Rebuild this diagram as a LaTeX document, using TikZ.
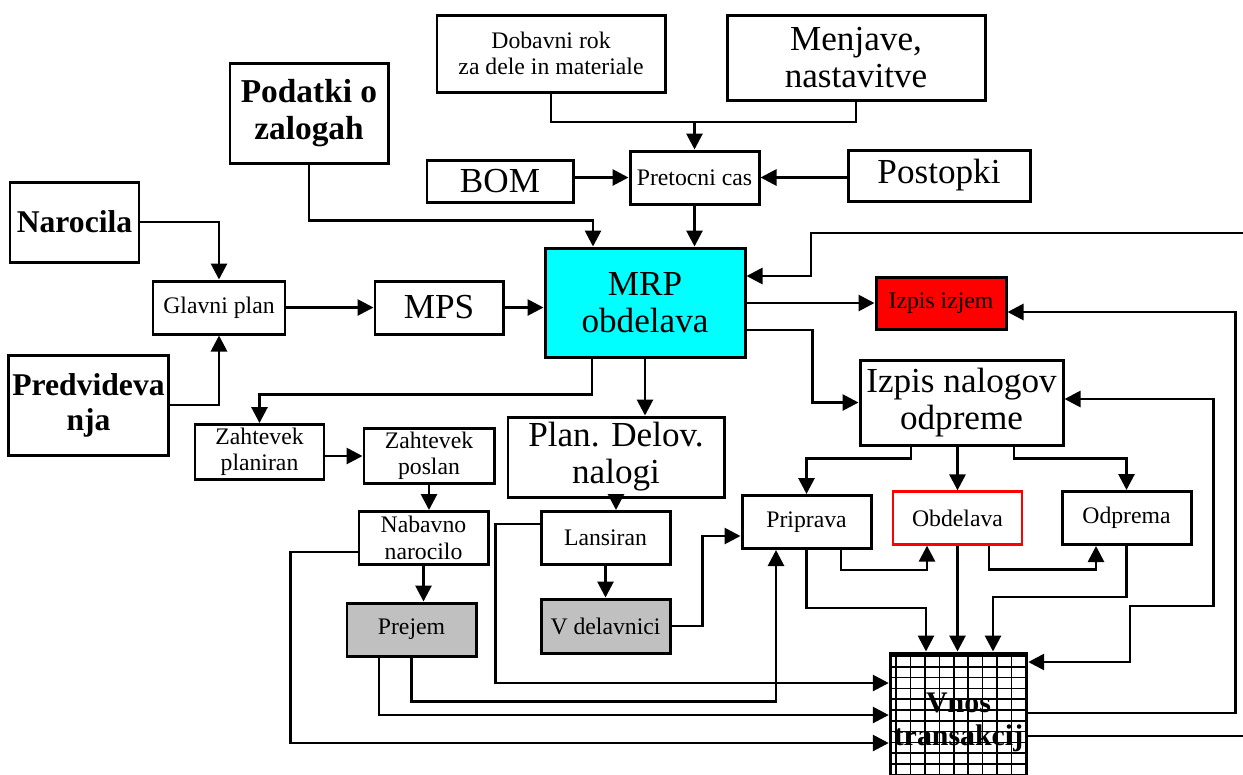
\documentclass[tikz,border=0pt]{standalone}
\usepackage{fontspec}
\setmainfont{Liberation Serif}
\usetikzlibrary{positioning, arrows.meta, calc}
\definecolor{mrpcyan}{HTML}{00FFFF}
\definecolor{izjemred}{HTML}{FF0000}
\definecolor{boxgray}{HTML}{C0C0C0}

\tikzset{
  blok/.style={draw, line width=1.7pt, fill=white, align=center, inner sep=2pt},
  mali/.style={blok, font=\fontsize{13.5}{15}\selectfont,
               minimum width=25.8mm, minimum height=10.6mm},
  veliki/.style={blok, font=\fontsize{20}{21}\selectfont},
  krepki/.style={blok, font=\fontsize{18}{20}\selectfont\bfseries},
  tok/.style={line width=1.6pt, -{Triangle[length=3.2mm,width=3.2mm]}},
  dvotok/.style={line width=1.6pt,
                 {Triangle[length=3.2mm,width=3.2mm]}-{Triangle[length=3.2mm,width=3.2mm]}},
  crta/.style={line width=1.6pt},
  mreza/.style={path picture={
      \foreach \k in {0,...,8}
        \draw[line width=0.9pt]
          ([xshift={1.2mm+\k*2.88mm}]path picture bounding box.north west) --
          ([xshift={1.2mm+\k*2.88mm}]path picture bounding box.south west);
      \foreach \k in {0,...,12}
        \draw[line width=0.9pt]
          ([yshift={-0.6mm-\k*2.16mm}]path picture bounding box.north west) --
          ([yshift={-0.6mm-\k*2.16mm}]path picture bounding box.north east);
    }},
}

\begin{document}
\begin{tikzpicture}[x=0.2mm, y=-0.2mm]
  \useasboundingbox (0,0) rectangle (1243,774);
  \clip (0,0) rectangle (1243,774);

  % vhodni podatki
  \node[mali, minimum width=45.6mm, minimum height=15.4mm] (dobavni) at (551,53.5)
    {Dobavni rok\\za dele in materiale};
  \node[veliki, minimum width=51.6mm, minimum height=17mm] (menjave) at (856,57.5)
    {Menjave,\\nastavitve};
  \node[krepki, font=\fontsize{19}{21}\selectfont\bfseries,
        minimum width=31.6mm, minimum height=20mm] (podatki) at (309,113)
    {Podatki o\\zalogah};
  \node[veliki, minimum width=29.2mm, minimum height=8.4mm] (bom) at (500,181) {BOM};
  \node[mali] (pretocni) at (694.5,177.5) {Pretocni cas};
  \node[veliki, minimum width=36.4mm, minimum height=10.2mm] (postopki) at (939,175.5) {Postopki};
  \node[krepki, minimum width=25.8mm, minimum height=16mm] (narocila) at (74.5,222) {Narocila};
  \node[krepki, minimum width=31.4mm, minimum height=20mm] (predvid) at (88.5,405)
    {Predvideva\\nja};

  % planiranje
  \node[mali, minimum width=26.4mm] (glavni) at (219,307.5) {Glavni plan};
  \node[veliki, minimum width=25.6mm, minimum height=10.6mm] (mps) at (439,307.5) {MPS};
  \node[veliki, fill=mrpcyan, minimum width=40mm, minimum height=21.8mm] (mrp) at (645,302.5)
    {MRP\\obdelava};
  \node[mali, fill=izjemred, minimum width=26mm, minimum height=10.4mm] (izjem) at (941,303)
    {Izpis izjem};
  \node[veliki, minimum width=40.6mm, minimum height=17mm] (nalogov) at (961.5,402.5)
    {Izpis nalogov\\odpreme};

  % nabava
  \node[mali, minimum height=10.8mm] (zplan) at (259.5,452) {Zahtevek\\planiran};
  \node[mali, minimum width=26mm, minimum height=10.8mm] (zposl) at (429,456) {Zahtevek\\poslan};
  \node[mali] (nabavno) at (423.5,538) {Nabavno\\narocilo};
  \node[mali, fill=boxgray] (prejem) at (411.5,629.5) {Prejem};

  % proizvodnja
  \node[veliki, minimum width=43.2mm, minimum height=16mm] (plan) at (616,457)
    {Plan. Delov.\\nalogi};
  \node[mali] (lansiran) at (605.5,538) {Lansiran};
  \node[mali, fill=boxgray, minimum height=10.8mm] (delavnici) at (605.5,626) {V delavnici};

  % odprema
  \node[mali] (priprava) at (806.5,522) {Priprava};
  \node[mali, draw=izjemred, line width=1.3pt] (obdelava) at (957.5,518) {Obdelava};
  \node[mali] (odprema) at (1126.5,518) {Odprema};

  \node[krepki, mreza, font=\fontsize{17}{19}\selectfont\bfseries,
        minimum width=27mm, minimum height=26.4mm, text depth=-2pt] (vnos) at (958.5,719)
    {Vnos\\transakcij};

  % povezave zgoraj
  \coordinate (spoj) at (694.5,122);
  \draw[crta] (dobavni.south) |- (spoj);
  \draw[crta] (menjave.south) |- (spoj);
  \draw[tok] (spoj) -- (pretocni.north);
  \draw[tok] (bom.east |- pretocni) -- (pretocni.west);
  \draw[tok] (postopki.west |- pretocni) -- (pretocni.east);
  \draw[tok] (pretocni.south) -- (pretocni.south |- mrp.north);
  \draw[tok] (podatki.south) -- ++(0,56) -| ([xshift=-10.4mm]mrp.north);

  \draw[tok] (narocila.east) -| (glavni.north);
  \draw[tok] (predvid.east) -| (glavni.south);
  \draw[tok] (glavni.east) -- (glavni.east -| mps.west);
  \draw[tok] (mps.east) -- (mps.east -| mrp.west);

  % izhodi MRP
  \draw[tok] (mrp.east |- izjem) -- (izjem.west);
  \draw[tok] ([yshift=-5.5mm]mrp.east) -- ++(66,0) |- (nalogov.west);
  \draw[tok] ([xshift=-10.6mm]mrp.south) -- ++(0,36) -| (zplan.north);
  \draw[tok] (mrp.south) -- (mrp.south |- plan.north);

  % nabava
  \draw[tok] (zplan.east |- zposl) -- (zposl.west);
  \draw[tok] (zposl.south) -- (zposl.south |- nabavno.north);
  \draw[tok] (nabavno.south) -- (nabavno.south |- prejem.north);

  % proizvodnja
  \draw[tok] (plan.south) -- (plan.south |- lansiran.north);
  \draw[tok] (lansiran) -- (delavnici);
  \draw[tok] (delavnici.east) -- ++(31,0) |- ([yshift=-2.8mm]priprava.west);

  % odprema
  \draw[tok] ([xshift=-10.1mm]nalogov.south) -- ++(0,12) -| (priprava.north);
  \draw[tok] (obdelava.north |- nalogov.south) -- (obdelava.north);
  \draw[tok] ([xshift=10.5mm]nalogov.south) -- ++(0,12) -| (odprema.north);
  \draw[tok] ([xshift=6.9mm]priprava.south) -- ++(0,20) -| ([xshift=-6.1mm]obdelava.south);
  \draw[tok] ([xshift=6.3mm]obdelava.south) -- ++(0,24) -| ([xshift=-6.1mm]odprema.south);

  % v vnos transakcij
  \draw[tok] (obdelava.south) -- (obdelava.south |- vnos.north);
  \draw[tok] (priprava.south) -- ++(0,58) -| ([xshift=-6.5mm]vnos.north);
  \draw[tok] (odprema.south) -- ++(0,51) -| ([xshift=6.9mm]vnos.north);
  \draw[tok] ([yshift=2.8mm]lansiran.west) -- ++(-44,0) |- ([yshift=7.2mm]vnos.west);
  \draw[tok] (prejem.south) -- ++(0,44) -| ([xshift=-6.1mm]priprava.south);
  \draw[tok] ([xshift=-6.5mm]prejem.south) |- ([yshift=0.8mm]vnos.west);
  \draw[tok] ([yshift=-2.8mm]nabavno.west) -- ++(-67,0) |- ([yshift=-4.8mm]vnos.west);

  % povratne zanke
  \draw[dvotok] ([yshift=0.7mm]nalogov.east) -- ++(149,0) |- (1130,606) |- ([yshift=11.4mm]vnos.east);
  \draw[tok] ([yshift=1.2mm]vnos.east) -- ++(207,0) |- ([yshift=-1.8mm]izjem.east);
  \draw[tok] ([yshift=-3.4mm]vnos.east) -- ++(254,0) |- (811,233) |- ([yshift=5.3mm]mrp.east);
\end{tikzpicture}
\end{document}
